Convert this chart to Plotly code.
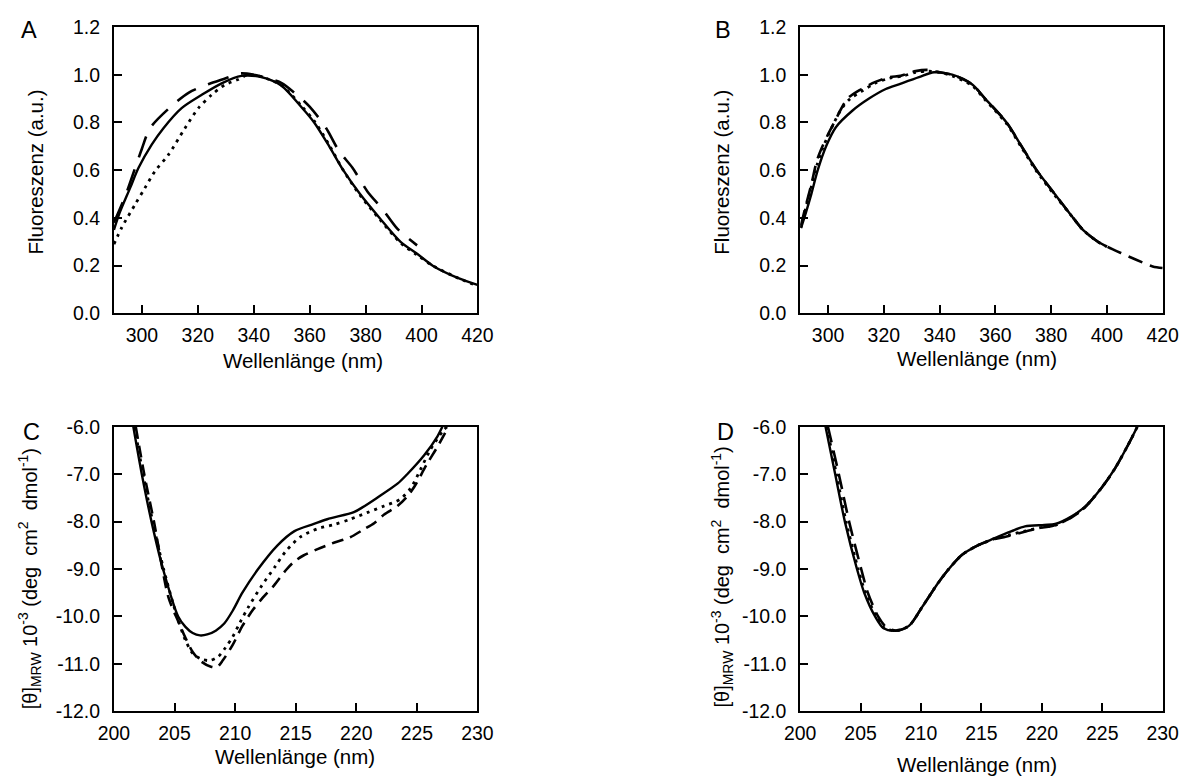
import plotly.graph_objects as go

W, H = 1188, 778
FONT = "Arial, Liberation Sans, sans-serif"

# ---------------- Panel A (fluorescence) ----------------
a_solid_x = [290, 292, 295.8, 298.8, 303.5, 307.7, 314.2, 321.3, 328.5, 335.6, 342.7, 349.8, 357, 361.6, 367, 372, 378, 385, 392.5, 398.4, 404, 412.7, 420]
a_solid_y = [0.35, 0.42, 0.526, 0.61, 0.707, 0.776, 0.86, 0.915, 0.964, 0.995, 0.99, 0.955, 0.865, 0.8, 0.7, 0.6, 0.5, 0.4, 0.3, 0.25, 0.2, 0.15, 0.12]
a_dot_x = [290, 292.8, 297.6, 301.1, 304.7, 309.5, 315.4, 320.2, 324.9, 329.6, 334.4, 338, 343, 350, 357, 362, 367, 372, 378, 385, 392.5, 398.4, 404, 412.7, 420]
a_dot_y = [0.29, 0.36, 0.457, 0.526, 0.596, 0.665, 0.776, 0.86, 0.915, 0.957, 0.98, 1.0, 0.99, 0.955, 0.87, 0.8, 0.705, 0.6, 0.495, 0.395, 0.295, 0.245, 0.2, 0.15, 0.115]
a_dash_x = [290, 294, 297.6, 300, 302.9, 310, 316.8, 323.7, 330, 335, 340, 345, 350, 355, 359.8, 365.8, 370.5, 375.3, 380.7, 386, 391.4, 398.4]
a_dash_y = [0.38, 0.49, 0.61, 0.69, 0.776, 0.8625, 0.925, 0.96, 0.985, 1.005, 1.0, 0.985, 0.965, 0.92, 0.868, 0.778, 0.68, 0.61, 0.51, 0.4375, 0.354, 0.285]

# ---------------- Panel B (fluorescence) ----------------
b_solid_x = [290.3, 292, 294, 296.3, 299.3, 302.8, 308.8, 314.7, 320.7, 325.4, 332.6, 338, 344.5, 351.6, 356.3, 364, 369.4, 374.8, 381.3, 387.9, 391.4, 396.8, 400]
b_solid_y = [0.357, 0.42, 0.5, 0.6, 0.7, 0.78, 0.85, 0.9, 0.94, 0.96, 0.99, 1.01, 1.0, 0.96, 0.9, 0.8, 0.7, 0.6, 0.5, 0.4, 0.35, 0.3, 0.28]
b_dot_x = [290.3, 292, 294, 296, 298, 300, 302.2, 305, 308, 312, 317, 322, 327, 331.4, 336, 340, 344.5, 351.6, 356.3, 364, 369.4, 374.8, 381.3, 387.9, 391.4, 396.8, 400]
b_dot_y = [0.36, 0.44, 0.53, 0.62, 0.69, 0.745, 0.8, 0.86, 0.9, 0.93, 0.965, 0.985, 0.995, 1.01, 1.015, 1.01, 0.995, 0.955, 0.895, 0.795, 0.695, 0.595, 0.495, 0.4, 0.35, 0.3, 0.28]
b_dash_x = [290.3, 292, 294, 296, 298, 300, 302.2, 307, 312, 317, 322, 326, 331.4, 336, 340, 344.5, 351.6, 356.3, 364, 369.4, 374.8, 381.3, 387.9, 391.4, 396.8, 400, 405, 410.5, 416.4, 420]
b_dash_y = [0.37, 0.45, 0.54, 0.64, 0.7, 0.75, 0.8, 0.9, 0.94, 0.97, 0.99, 0.995, 1.015, 1.02, 1.01, 1.0, 0.96, 0.9, 0.8, 0.7, 0.6, 0.5, 0.4, 0.35, 0.3, 0.28, 0.253, 0.225, 0.197, 0.19]

# ---------------- Panel C (CD) ----------------
c_solid_x = [201.6, 202.3, 203.1, 204.05, 205.3, 205.9, 206.5, 207.1, 207.7, 208.4, 209.1, 209.8, 210.6, 211.9, 213.5, 214.9, 216.5, 217.6, 219.8, 220.5, 221.7, 223.4, 224.2, 225.6, 226.7, 227.1]
c_solid_y = [-6, -7, -8, -9, -10, -10.22, -10.35, -10.4, -10.38, -10.3, -10.15, -9.88, -9.5, -9, -8.5, -8.2, -8.05, -7.95, -7.8, -7.7, -7.5, -7.2, -7.0, -6.6, -6.2, -6.0]
c_dot_x = [201.7, 202.4, 203.2, 204.1, 205.2, 205.9, 206.5, 207.2, 207.9, 208.6, 209.2, 209.8, 210.4, 211.1, 212.2, 213.3, 214.2, 215.4, 216.8, 218.2, 219.5, 220.9, 222.3, 223.6, 224.5, 225.3, 226.1, 227.2, 227.5]
c_dot_y = [-6, -7, -8, -9, -10, -10.5, -10.78, -10.9, -10.93, -10.85, -10.66, -10.43, -10.13, -9.8, -9.35, -8.95, -8.62, -8.32, -8.15, -8.06, -7.95, -7.81, -7.67, -7.53, -7.29, -6.9, -6.49, -6.07, -6.0]
c_dash_x = [201.8, 202.5, 203.3, 204.5, 205.3, 205.9, 206.5, 207.2, 208.0, 208.5, 209.0, 209.8, 210.6, 211.5, 212.3, 213.2, 214.2, 214.8, 215.6, 216.8, 218.2, 219.5, 220.5, 221.5, 222.3, 223.4, 224.2, 224.8, 225.8, 226.7, 227.6]
c_dash_y = [-6, -7, -8, -9.6, -10.1, -10.45, -10.75, -10.95, -11.06, -11.07, -10.92, -10.6, -10.2, -9.85, -9.6, -9.35, -9.02, -8.86, -8.72, -8.58, -8.44, -8.33, -8.18, -8.03, -7.85, -7.67, -7.47, -7.26, -6.8, -6.42, -6.0]

# ---------------- Panel D (CD) ----------------
d_solid_x = [202.1, 202.9, 203.7, 204.7, 205.3, 206.2, 206.9, 207.9, 209, 210.1, 211.4, 212.3, 213.4, 214.7, 216.1, 217.5, 218.6, 220.2, 221.1, 222.4, 223.5, 224.9, 226, 227.1, 227.9]
d_solid_y = [-6, -7, -8, -9, -9.5, -10, -10.25, -10.3, -10.2, -9.8, -9.3, -9.0, -8.7, -8.5, -8.35, -8.2, -8.1, -8.07, -8.05, -7.9, -7.7, -7.3, -6.9, -6.4, -6.0]
d_dot_x = [202.2, 203.0, 203.8, 204.8, 205.4, 206.3, 207, 207.9, 209, 210.1, 211.4, 212.3, 213.4, 214.7, 216.1, 217.3, 218.6, 220, 221.2, 222.4, 223.5, 224.9, 226, 227.1, 227.9]
d_dot_y = [-6, -7, -8, -9, -9.5, -10, -10.25, -10.3, -10.2, -9.8, -9.3, -9.0, -8.7, -8.5, -8.36, -8.28, -8.2, -8.12, -8.07, -7.91, -7.71, -7.3, -6.9, -6.4, -6.0]
d_dash_x = [202.3, 203.2, 204.05, 205.05, 205.6, 206.45, 207.1, 207.9, 209, 210.1, 211.4, 212.3, 213.4, 214.7, 216.1, 217, 218.5, 219.5, 221, 222.4, 223.5, 224.9, 226, 227.1, 227.9]
d_dash_y = [-6, -7, -8, -9, -9.5, -10, -10.22, -10.3, -10.2, -9.8, -9.3, -9.0, -8.7, -8.5, -8.37, -8.32, -8.22, -8.15, -8.08, -7.92, -7.72, -7.3, -6.9, -6.4, -6.0]

# ---------------- Axis ticks ----------------
fl_xticks = [300, 320, 340, 360, 380, 400, 420]
fl_yticks = [0.0, 0.2, 0.4, 0.6, 0.8, 1.0, 1.2]
fl_ytext = ["0.0", "0.2", "0.4", "0.6", "0.8", "1.0", "1.2"]
cd_xticks = [200, 205, 210, 215, 220, 225, 230]
cd_yticks = [-6, -7, -8, -9, -10, -11, -12]
cd_ytext = ["-6.0", "-7.0", "-8.0", "-9.0", "-10.0", "-11.0", "-12.0"]

NB = "\u00a0"
x_title = "Wellenlänge (nm)"
fl_ytitle = "Fluoreszenz (a.u.)"
cd_ytitle = ("[θ]<sub>MRW</sub> 10<sup>-3</sup> (deg" + NB + NB + "cm<sup>2</sup>" + NB + NB
             + "dmol<sup>-1</sup>)")
panel_letters = ["A", "B", "C", "D"]

# The photographed page shows the figure slightly shrunk and centred;
# target pixel positions are converted to figure pixels with this mapping.
S = 0.977
OX = (W - W * S) / 2
OY = (H - H * S) / 2

def tx(x):  # target picture x -> paper fraction
    return ((x - OX) / S) / W

def ty(y):  # target picture y -> paper fraction (from bottom)
    return 1 - ((y - OY) / S) / H

def fs(size):
    return size / S

# target pixel boxes of the four plots: (left, right, top, bottom)
boxes = [(112, 477, 25, 313), (801, 1165, 25, 313), (112, 477, 427, 713), (801, 1165, 427, 713)]

fig = go.Figure()

panels = [
    ((a_solid_x, a_solid_y), (a_dot_x, a_dot_y), (a_dash_x, a_dash_y), "22px,13px"),
    ((b_solid_x, b_solid_y), (b_dot_x, b_dot_y), (b_dash_x, b_dash_y), "15px,8px"),
    ((c_solid_x, c_solid_y), (c_dot_x, c_dot_y), (c_dash_x, c_dash_y), "12px,7px"),
    ((d_solid_x, d_solid_y), (d_dot_x, d_dot_y), (d_dash_x, d_dash_y), "16px,8px"),
]

for i, (sol, dot, dsh, dashpat) in enumerate(panels):
    xa = "x" if i == 0 else f"x{i+1}"
    ya = "y" if i == 0 else f"y{i+1}"
    common = dict(xaxis=xa, yaxis=ya, mode="lines", showlegend=False, hoverinfo="skip")
    fig.add_trace(go.Scatter(x=dot[0], y=dot[1], line=dict(color="black", width=2.8, dash="3px,5px", shape="spline", smoothing=0.8), **common))
    fig.add_trace(go.Scatter(x=dsh[0], y=dsh[1], line=dict(color="black", width=2.6, dash=dashpat, shape="spline", smoothing=0.8), **common))
    fig.add_trace(go.Scatter(x=sol[0], y=sol[1], line=dict(color="black", width=2.4, shape="spline", smoothing=0.8), **common))

axis_common = dict(showline=True, mirror=True, linecolor="black", linewidth=2,
                   ticks="inside", ticklen=8, tickwidth=2, tickcolor="black",
                   showgrid=False, zeroline=False,
                   tickfont=dict(family=FONT, size=fs(19), color="black"))

layout = dict(width=W, height=H, margin=dict(l=0, r=0, t=0, b=0, pad=0),
              plot_bgcolor="white", paper_bgcolor="white",
              font=dict(family=FONT, color="black"))

for i, (l, r, t, b) in enumerate(boxes):
    xk = "xaxis" if i == 0 else f"xaxis{i+1}"
    yk = "yaxis" if i == 0 else f"yaxis{i+1}"
    ya = "y" if i == 0 else f"y{i+1}"
    xa = "x" if i == 0 else f"x{i+1}"
    if i < 2:
        xr, xt, yr, yt, ytt = [290, 420], fl_xticks, [0, 1.2], fl_yticks, fl_ytext
    else:
        xr, xt, yr, yt, ytt = [200, 230], cd_xticks, [-12, -6], cd_yticks, cd_ytext
    layout[xk] = dict(domain=[tx(l), tx(r)], range=xr, tickvals=xt, anchor=ya,
                      ticklabelstandoff=3, **axis_common)
    layout[yk] = dict(domain=[ty(b), ty(t)], range=yr, tickvals=yt, ticktext=ytt, anchor=xa,
                      ticklabelstandoff=8, **axis_common)

fig.update_layout(**layout)

# axis titles and panel letters (target pixel positions)
xtitle_pos = [(302, 360), (979, 358), (294, 758), (979, 767)]
ytitle_pos = [(33, 171), (722, 171), (28, 580), (723, 578)]
letter_pos = [(27, 28), (724, 28), (29, 432), (726, 432)]

for i in range(4):
    fig.add_annotation(x=tx(xtitle_pos[i][0]), y=ty(xtitle_pos[i][1]), xref="paper", yref="paper",
                       text=x_title, showarrow=False, xanchor="center", yanchor="middle",
                       font=dict(family=FONT, size=fs(20), color="black"))
    fig.add_annotation(x=tx(ytitle_pos[i][0]), y=ty(ytitle_pos[i][1]), xref="paper", yref="paper",
                       text=fl_ytitle if i < 2 else cd_ytitle, textangle=-90, showarrow=False,
                       xanchor="center", yanchor="middle",
                       font=dict(family=FONT, size=fs(20 if i < 2 else 19.5), color="black"))
    fig.add_annotation(x=tx(letter_pos[i][0]), y=ty(letter_pos[i][1]), xref="paper", yref="paper",
                       text=panel_letters[i], showarrow=False, xanchor="center", yanchor="middle",
                       font=dict(family=FONT, size=fs(23), color="black"))

fig.write_html("out.html")
